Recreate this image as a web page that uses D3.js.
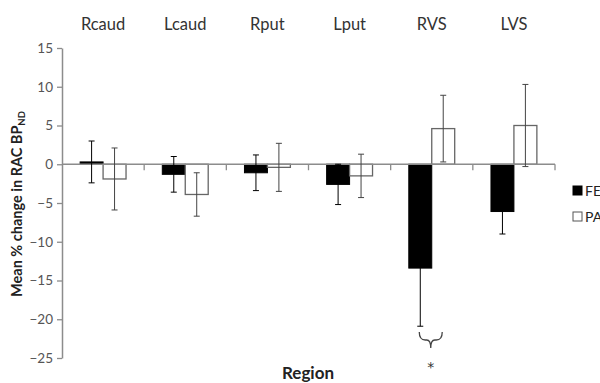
<!DOCTYPE html>
<html>
<head>
<meta charset="utf-8">
<script src="https://d3js.org/d3.v7.min.js"></script>
<style>
  body { margin: 0; background: #fff; }
  text { font-family: Lato, "Open Sans", sans-serif; }
</style>
</head>
<body>
<div id="chart"></div>
<script>
  // data
  var regions = ["Rcaud", "Lcaud", "Rput", "Lput", "RVS", "LVS"];
  var series = ["FEP", "PAT"];
  var fepMean = [0.3, -1.3, -1.1, -2.6, -13.4, -6.1];
  var fepErr  = [2.7, 2.3, 2.3, 2.6, 7.5, 2.9];
  var patMean = [-1.9, -3.9, -0.4, -1.5, 4.6, 5.0];
  var patErr  = [4.0, 2.8, 3.1, 2.8, 4.3, 5.3];
  var yTicks = [15, 10, 5, 0, -5, -10, -15, -20, -25];

  var width = 600, height = 383;
  var plotLeft = 62, plotRight = 555, plotTop = 48, plotBottom = 358;

  var svg = d3.select("#chart").append("svg")
    .attr("width", width)
    .attr("height", height);

  var x0 = d3.scaleBand().domain(regions).range([plotLeft, plotRight]);
  var x1 = d3.scaleBand().domain(series).range([0, x0.bandwidth()]).paddingOuter(0.79);
  var y = d3.scaleLinear().domain([-25, 15]).range([plotBottom, plotTop]);

  // build rows for drawing
  var rows = [];
  regions.forEach(function(r, i) {
    rows.push({ region: r, s: "FEP", v: fepMean[i], e: fepErr[i] });
    rows.push({ region: r, s: "PAT", v: patMean[i], e: patErr[i] });
  });

  // y axis
  var yAxis = svg.append("g")
    .attr("transform", "translate(" + plotLeft + ",0)")
    .call(d3.axisLeft(y).tickValues(yTicks).tickSize(5).tickSizeOuter(0));
  yAxis.select(".domain").attr("stroke", "#8c8c8c").attr("stroke-width", 1.5);
  yAxis.selectAll(".tick line").attr("stroke", "#8c8c8c").attr("stroke-width", 1.3);
  yAxis.selectAll(".tick text")
    .attr("fill", "#555")
    .style("font-size", "13.5px")
    .style("font-family", "Lato, 'Open Sans', sans-serif")
    .attr("x", -9);

  // bars
  svg.append("g")
    .selectAll("rect")
    .data(rows)
    .enter()
    .append("rect")
      .attr("x", function(d) { return x0(d.region) + x1(d.s); })
      .attr("width", x1.bandwidth())
      .attr("y", function(d) { return y(Math.max(0, d.v)); })
      .attr("height", function(d) { return Math.abs(y(d.v) - y(0)); })
      .attr("fill", function(d) { return d.s == "FEP" ? "#000" : "#fff"; })
      .attr("stroke", function(d) { return d.s == "FEP" ? "#000" : "#666"; })
      .attr("stroke-width", function(d) { return d.s == "FEP" ? 1 : 1.3; });

  // x axis on the zero line, ticks between categories
  var xAxisG = svg.append("g");
  xAxisG.append("line")
    .attr("x1", plotLeft).attr("x2", plotRight)
    .attr("y1", y(0)).attr("y2", y(0))
    .attr("stroke", "#8c8c8c").attr("stroke-width", 1.5);
  var bounds = regions.slice(1).map(function(r) { return x0(r); }).concat([plotRight]);
  xAxisG.selectAll("line.tk")
    .data(bounds)
    .enter()
    .append("line")
      .attr("class", "tk")
      .attr("x1", function(d) { return d; })
      .attr("x2", function(d) { return d; })
      .attr("y1", y(0))
      .attr("y2", y(0) + 6)
      .attr("stroke", "#8c8c8c").attr("stroke-width", 1.3);

  // error bars (black on the filled bars, so they vanish inside them)
  var eb = svg.append("g").attr("stroke-width", 1);
  rows.forEach(function(d) {
    var cx = x0(d.region) + x1(d.s) + x1.bandwidth() / 2;
    var col = d.s == "FEP" ? "#000" : "#444";
    eb.append("line").attr("stroke", col)
      .attr("x1", cx).attr("x2", cx)
      .attr("y1", y(d.v + d.e)).attr("y2", y(d.v - d.e));
    eb.append("line").attr("stroke", col)
      .attr("x1", cx - 3).attr("x2", cx + 3)
      .attr("y1", y(d.v + d.e)).attr("y2", y(d.v + d.e));
    eb.append("line").attr("stroke", col)
      .attr("x1", cx - 3).attr("x2", cx + 3)
      .attr("y1", y(d.v - d.e)).attr("y2", y(d.v - d.e));
  });

  // category labels along the top
  svg.append("g")
    .selectAll("text")
    .data(regions)
    .enter()
    .append("text")
      .attr("x", function(d) { return x0(d) + x0.bandwidth() / 2; })
      .attr("y", 30)
      .attr("text-anchor", "middle")
      .style("font-size", "16.5px")
      .attr("fill", "#333")
      .text(function(d) { return d; });

  // y axis title
  var yt = svg.append("text")
    .attr("transform", "translate(22,204) rotate(-90)")
    .attr("text-anchor", "middle")
    .style("font-size", "14.5px")
    .style("font-weight", "bold")
    .attr("fill", "#222");
  yt.append("tspan").text("Mean % change in RAC BP");
  yt.append("tspan").attr("dy", 3).style("font-size", "9.5px").text("ND");

  // x axis title
  svg.append("text")
    .attr("x", 308)
    .attr("y", 379)
    .attr("text-anchor", "middle")
    .style("font-size", "17px")
    .style("font-weight", "bold")
    .attr("fill", "#222")
    .text("Region");

  // significance brace under RVS
  var bx0 = x0("RVS") + x1("FEP") + x1.bandwidth() / 2 - 1;
  var bx1 = x0("RVS") + x1("PAT") + x1.bandwidth() / 2 - 1;
  var bm = (bx0 + bx1) / 2;
  svg.append("path")
    .attr("d", "M" + bx0 + ",332 Q" + bx0 + ",340 " + (bx0 + 6) + ",340 L" + (bm - 4) + ",340 Q" + bm + ",340 " + bm + ",348"
      + " M" + bx1 + ",332 Q" + bx1 + ",340 " + (bx1 - 6) + ",340 L" + (bm + 4) + ",340 Q" + bm + ",340 " + bm + ",348")
    .attr("fill", "none")
    .attr("stroke", "#444")
    .attr("stroke-width", 1.3);
  svg.append("text")
    .attr("x", bm)
    .attr("y", 372)
    .attr("text-anchor", "middle")
    .style("font-size", "14px")
    .style("font-family", "'DejaVu Sans', sans-serif")
    .attr("fill", "#333")
    .text("*");

  // legend (cut by the right edge, as in the original)
  var lg = svg.append("g");
  series.forEach(function(s, i) {
    var ly = 186 + i * 26;
    lg.append("rect")
      .attr("x", 573).attr("y", ly)
      .attr("width", 9).attr("height", 9)
      .attr("fill", s == "FEP" ? "#000" : "#fff")
      .attr("stroke", s == "FEP" ? "#000" : "#555");
    lg.append("text")
      .attr("x", 585).attr("y", ly + 10)
      .style("font-size", "14px")
      .attr("fill", "#222")
      .text(s);
  });
</script>
</body>
</html>
